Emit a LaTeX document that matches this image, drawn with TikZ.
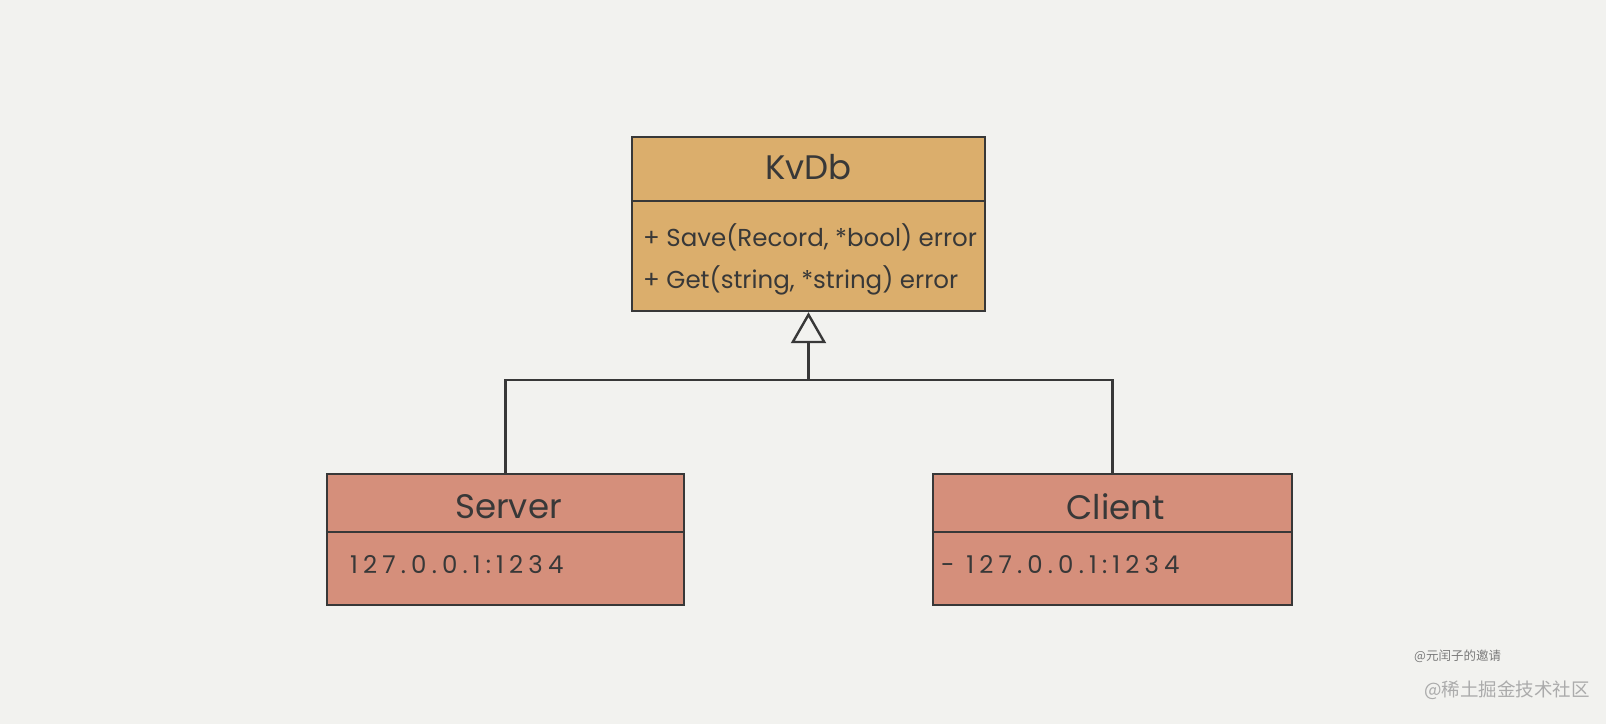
\documentclass[tikz,border=0pt]{standalone}
\usepackage{fontspec}
\setmainfont{Poppins}
\newfontfamily\cjk{Noto Sans CJK SC}
\usetikzlibrary{arrows.meta}
\definecolor{paper}{HTML}{F2F2EF}
\definecolor{ink}{HTML}{383838}
\definecolor{kvfill}{HTML}{DBAE6C}
\definecolor{implfill}{HTML}{D58F7B}
\definecolor{wmdark}{HTML}{7A7A7A}
\definecolor{wmlight}{HTML}{ABABAB}

\begin{document}
\begin{tikzpicture}[x = 1pt, y = -1pt, line width = 2.4pt, draw = ink,
    classbox/.style = {draw = ink, rectangle, inner sep = 0pt},
    title/.style = {text = ink, inner sep = 0pt, font = \fontsize{34}{40}\selectfont},
    member/.style = {text = ink, anchor = west, inner sep = 0pt, font = \fontsize{24.5}{29}\selectfont},
    address/.style = {member, font = \fontsize{24.5}{29}\selectfont\addfontfeature{LetterSpace = 21}}]
    \fill [paper] (0, 0) rectangle (1606, 724);

    \node [classbox, fill = kvfill, minimum width = 353pt, minimum height = 174pt] (kvdb) at (808.5, 224) {};
    \draw ([yshift = -65pt] kvdb.north west) -- ([yshift = -65pt] kvdb.north east);
    \node [title] (kvdbname) at (808.5, 167) {KvDb};
    \node [member] (kvdbsave) at (642, 237) {+ Save(Record, *bool) error};
    \node [member] (kvdbget) at (642, 280) {+ Get(string, *string) error};

    \foreach \name/\cx/\boxw/\label/\addr/\ax in {server/505.5/357/Server/127.0.0.1:1234/349, client/1112.5/359/Client/- 127.0.0.1:1234/940} {
        \node [classbox, fill = implfill, minimum width = \boxw pt, minimum height = 131pt] (\name) at (\cx, 539.5) {};
        \draw ([yshift = -59pt] \name.north west) -- ([yshift = -59pt] \name.north east);
        \node [title] (\name title) at (\cx + 3, 507) {\label};
        \node [address] (\name addr) at (\ax, 565) {\addr};
    }

    \coordinate (fork) at (808.5, 380);
    \draw [-{Triangle[open, length = 31pt, width = 35pt]}] (fork) -- (kvdb.south);
    \draw (server.north) |- (fork) -| (client.north);

    \node [text = wmdark, anchor = west, inner sep = 0pt, font = \cjk\fontsize{12.5}{14}\selectfont] (signature) at (1413, 656) {@元闰子的邀请};
    \node [text = wmlight, anchor = west, inner sep = 0pt, font = \cjk\fontsize{18.5}{22}\selectfont] (platform) at (1423, 690) {@稀土掘金技术社区};
\end{tikzpicture}
\end{document}
